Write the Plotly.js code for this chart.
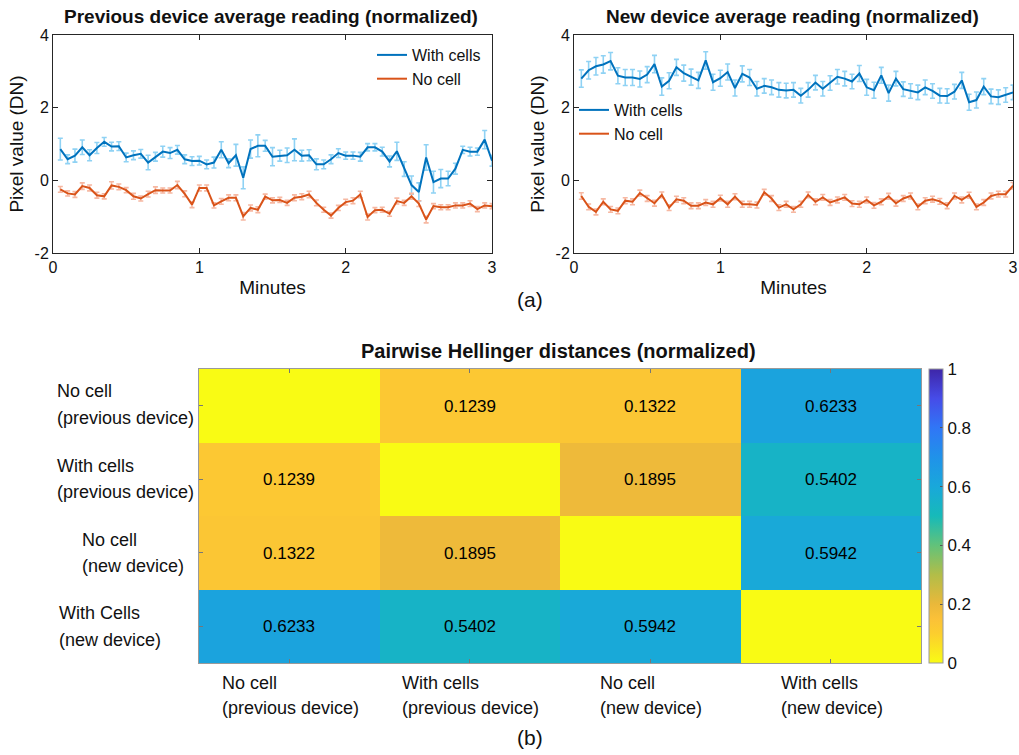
<!DOCTYPE html>
<html>
<head>
<meta charset="utf-8">
<script src="https://cdn.plot.ly/plotly-3.0.1.min.js"></script>
<style>html,body{margin:0;padding:0;background:#fff;}#chart{width:1019px;height:755px;}</style>
</head>
<body>
<div id="chart"></div>
<script>
// ---------- data ----------
const minutes = [0.05,0.10,0.15,0.20,0.25,0.30,0.35,0.40,0.45,0.50,0.55,0.60,0.65,0.70,0.75,0.80,0.85,0.90,0.95,1.00,
  1.05,1.10,1.15,1.20,1.25,1.30,1.35,1.40,1.45,1.50,1.55,1.60,1.65,1.70,1.75,1.80,1.85,1.90,1.95,2.00,
  2.05,2.10,2.15,2.20,2.25,2.30,2.35,2.40,2.45,2.50,2.55,2.60,2.65,2.70,2.75,2.80,2.85,2.90,2.95,3.00];

const prevWithCells = [0.86,0.58,0.68,0.91,0.69,0.89,1.06,0.93,0.94,0.63,0.69,0.73,0.49,0.65,0.79,0.75,0.84,0.58,0.53,0.54,
  0.44,0.49,0.84,0.47,0.69,0.07,0.86,0.95,0.95,0.65,0.68,0.69,0.84,0.68,0.69,0.44,0.44,0.58,0.75,0.68,
  0.68,0.65,0.91,0.91,0.79,0.52,0.80,0.31,-0.13,-0.32,0.63,-0.05,0.05,0.05,0.32,0.84,0.79,0.79,1.12,0.54];
const prevWithCellsErr = [0.30,0.12,0.18,0.20,0.15,0.15,0.12,0.12,0.12,0.12,0.12,0.12,0.20,0.12,0.15,0.15,0.12,0.12,0.12,0.12,
  0.12,0.15,0.22,0.12,0.30,0.30,0.25,0.30,0.15,0.25,0.15,0.20,0.30,0.15,0.15,0.15,0.12,0.12,0.12,0.10,
  0.10,0.12,0.10,0.10,0.12,0.15,0.25,0.20,0.25,0.25,0.35,0.30,0.25,0.20,0.15,0.10,0.12,0.10,0.25,0.15];
const prevNoCell = [-0.25,-0.36,-0.39,-0.16,-0.21,-0.41,-0.44,-0.14,-0.18,-0.27,-0.44,-0.50,-0.38,-0.27,-0.28,-0.28,-0.13,-0.37,-0.67,-0.21,
  -0.21,-0.69,-0.58,-0.48,-0.48,-0.99,-0.76,-0.81,-0.45,-0.55,-0.54,-0.62,-0.48,-0.45,-0.39,-0.62,-0.81,-0.97,-0.76,-0.60,
  -0.56,-0.39,-1.01,-0.82,-0.81,-0.92,-0.57,-0.62,-0.44,-0.64,-1.08,-0.71,-0.74,-0.74,-0.69,-0.69,-0.64,-0.79,-0.69,-0.71];
const prevNoCellErr = [0.08,0.07,0.08,0.09,0.08,0.08,0.07,0.10,0.08,0.07,0.08,0.07,0.08,0.09,0.07,0.07,0.10,0.08,0.08,0.08,
  0.08,0.07,0.08,0.08,0.08,0.10,0.08,0.08,0.07,0.07,0.07,0.07,0.08,0.08,0.09,0.08,0.07,0.07,0.07,0.08,
  0.08,0.09,0.08,0.07,0.07,0.07,0.08,0.07,0.08,0.08,0.09,0.07,0.07,0.07,0.07,0.07,0.08,0.07,0.07,0.07];

const newWithCells = [2.80,3.03,3.14,3.19,3.28,2.88,2.83,2.83,2.79,2.91,3.20,2.58,2.74,3.11,2.95,2.84,2.75,3.30,2.70,2.81,
  2.98,2.54,2.93,2.83,2.52,2.60,2.56,2.49,2.47,2.49,2.33,2.49,2.69,2.52,2.68,2.85,2.80,2.72,2.94,2.56,
  2.48,2.89,2.40,2.80,2.51,2.46,2.42,2.56,2.46,2.33,2.32,2.44,2.75,2.15,2.21,2.58,2.31,2.29,2.35,2.42];
const newWithCellsErr = [0.24,0.24,0.24,0.24,0.24,0.22,0.22,0.22,0.22,0.22,0.24,0.24,0.22,0.22,0.22,0.22,0.22,0.24,0.22,0.22,
  0.22,0.22,0.22,0.22,0.20,0.20,0.20,0.20,0.20,0.20,0.20,0.20,0.20,0.20,0.20,0.20,0.20,0.20,0.22,0.22,
  0.22,0.22,0.22,0.20,0.20,0.20,0.20,0.20,0.20,0.20,0.20,0.20,0.22,0.22,0.22,0.22,0.20,0.20,0.20,0.20];
const newNoCell = [-0.43,-0.73,-0.87,-0.59,-0.80,-0.84,-0.56,-0.59,-0.35,-0.50,-0.63,-0.40,-0.75,-0.52,-0.56,-0.70,-0.70,-0.61,-0.66,-0.49,
  -0.66,-0.45,-0.66,-0.66,-0.68,-0.33,-0.50,-0.75,-0.66,-0.80,-0.66,-0.40,-0.59,-0.47,-0.61,-0.54,-0.47,-0.64,-0.66,-0.54,
  -0.69,-0.59,-0.44,-0.63,-0.50,-0.43,-0.73,-0.56,-0.52,-0.58,-0.70,-0.43,-0.54,-0.41,-0.73,-0.61,-0.43,-0.38,-0.38,-0.15];
const newNoCellErr = [0.09,0.08,0.08,0.08,0.08,0.08,0.08,0.08,0.08,0.08,0.08,0.08,0.08,0.08,0.08,0.08,0.08,0.08,0.08,0.08,
  0.08,0.08,0.08,0.08,0.08,0.08,0.08,0.08,0.08,0.08,0.08,0.08,0.08,0.08,0.08,0.08,0.08,0.08,0.08,0.08,
  0.08,0.08,0.08,0.08,0.08,0.08,0.08,0.08,0.08,0.08,0.08,0.08,0.08,0.08,0.08,0.08,0.08,0.08,0.08,0.09];

const yTickVals = [-2, 0, 2, 4];
const yTickText = ["-2", "0", "2", "4"];
const xTickVals = [0, 1, 2, 3];

const hmRowLabels = [["No cell","(previous device)"],["With cells","(previous device)"],["No cell","(new device)"],["With Cells","(new device)"]];
const hmColLabels = [["No cell","(previous device)"],["With cells","(previous device)"],["No cell","(new device)"],["With cells","(new device)"]];
const hellinger = [
  [0, 0.1239, 0.1322, 0.6233],
  [0.1239, 0, 0.1895, 0.5402],
  [0.1322, 0.1895, 0, 0.5942],
  [0.6233, 0.5402, 0.5942, 0]
];
const cbTicks = [0, 0.2, 0.4, 0.6, 0.8, 1];

// ---------- styling ----------
const W = 1019, H = 755;
const px = v => v / W, py = v => 1 - v / H;
const FONT = "Liberation Sans, Arial, Helvetica, sans-serif";
const BLUE = "#0072BD", ORANGE = "#D95319";
const LBLUE = "#8FD2F4", LORANGE = "#F6B8A2";

function errTrace(y, e, col, xa, ya) {
  return {x: minutes, y: y, xaxis: xa, yaxis: ya, type: "scatter", mode: "markers",
    marker: {size: 1, opacity: 0}, showlegend: false, hoverinfo: "skip",
    error_y: {type: "data", array: e, visible: true, color: col, thickness: 1.6, width: 2.5}};
}
function lineTrace(y, col, name, xa, ya, lg) {
  return {x: minutes, y: y, xaxis: xa, yaxis: ya, type: "scatter", mode: "lines", name: name,
    line: {color: col, width: 2}, legend: lg};
}

const hmText = hellinger.map(r => r.map(v => v === 0 ? "" : v.toFixed(4)));

const parulaRev = [
  [0.00, "rgb(249,251,20)"],
  [0.10, "rgb(252,206,46)"],
  [0.15, "rgb(251,193,56)"],
  [0.20, "rgb(234,184,58)"],
  [0.30, "rgb(178,189,72)"],
  [0.40, "rgb(98,194,122)"],
  [0.50, "rgb(22,186,185)"],
  [0.60, "rgb(25,168,218)"],
  [0.70, "rgb(32,146,233)"],
  [0.80, "rgb(48,118,246)"],
  [0.90, "rgb(70,76,232)"],
  [1.00, "rgb(62,38,168)"]
];

const traces = [
  errTrace(prevWithCells, prevWithCellsErr, LBLUE, "x", "y"),
  errTrace(prevNoCell, prevNoCellErr, LORANGE, "x", "y"),
  lineTrace(prevWithCells, BLUE, "With cells", "x", "y", "legend"),
  lineTrace(prevNoCell, ORANGE, "No cell", "x", "y", "legend"),
  errTrace(newWithCells, newWithCellsErr, LBLUE, "x2", "y2"),
  errTrace(newNoCell, newNoCellErr, LORANGE, "x2", "y2"),
  lineTrace(newWithCells, BLUE, "With cells", "x2", "y2", "legend2"),
  lineTrace(newNoCell, ORANGE, "No cell", "x2", "y2", "legend2"),
  {type: "heatmap", z: hellinger, x: [0,1,2,3], y: [0,1,2,3], xaxis: "x3", yaxis: "y3",
   zmin: 0, zmax: 1, colorscale: parulaRev, text: hmText, texttemplate: "%{text}",
   textfont: {family: FONT, size: 17, color: "#000"}, hoverinfo: "skip",
   colorbar: {x: px(929), xanchor: "left", y: py(663), yanchor: "bottom", len: (663-369)/H, lenmode: "fraction",
     thickness: 14, thicknessmode: "pixels", outlinecolor: "#9a9a9a", outlinewidth: 1,
     tickvals: cbTicks, ticktext: cbTicks.map(String), ticks: "inside", ticklen: 3, tickcolor: "#555",
     tickfont: {family: FONT, size: 17, color: "#111"}, xpad: 0, ypad: 0}}
];

function lineAxisX(domain, anchor) {
  return {domain: domain, anchor: anchor, range: [0, 3], tickvals: xTickVals, ticks: "inside", ticklen: 5,
    showline: true, mirror: "ticks", linecolor: "#262626", linewidth: 1, tickcolor: "#262626",
    showgrid: false, zeroline: false, automargin: false,
    tickfont: {family: FONT, size: 16, color: "#111"},
    title: {text: "Minutes", font: {family: FONT, size: 19, color: "#111"}, standoff: 5}};
}
function lineAxisY(domain, anchor) {
  return {domain: domain, anchor: anchor, range: [-2, 4], tickvals: yTickVals, ticktext: yTickText, ticks: "inside", ticklen: 5,
    showline: true, mirror: "ticks", linecolor: "#262626", linewidth: 1, tickcolor: "#262626",
    showgrid: false, zeroline: false, automargin: false,
    tickfont: {family: FONT, size: 16, color: "#111"},
    title: {text: "Pixel value (DN)", font: {family: FONT, size: 19, color: "#111"}, standoff: 5}};
}

const ann = [];
function addText(text, x, y, opts) {
  ann.push(Object.assign({text: text, x: px(x), y: py(y), xref: "paper", yref: "paper", showarrow: false,
    xanchor: "center", yanchor: "middle", font: {family: FONT, size: 18, color: "#111"}}, opts || {}));
}
addText("<b>Previous device average reading (normalized)</b>", 271, 17, {font: {family: FONT, size: 19, color: "#111"}});
addText("<b>New device average reading (normalized)</b>", 792, 17, {font: {family: FONT, size: 19, color: "#111"}});
addText("<b>Pairwise Hellinger distances (normalized)</b>", 558, 351, {font: {family: FONT, size: 20, color: "#111"}});
addText("(a)", 530, 299, {font: {family: FONT, size: 21, color: "#111"}});
addText("(b)", 530, 737, {font: {family: FONT, size: 21, color: "#111"}});

const rowLeft = [55, 55, 80, 57];
const rowY = [[391, 418], [466, 492], [540, 566], [613, 640]];
hmRowLabels.forEach((lines, i) => {
  addText(lines[0], rowLeft[i], rowY[i][0], {xanchor: "left"});
  addText(lines[1], rowLeft[i], rowY[i][1], {xanchor: "left"});
});
const colLeft = [220, 400, 598, 779];
hmColLabels.forEach((lines, i) => {
  addText(lines[0], colLeft[i], 683, {xanchor: "left"});
  addText(lines[1], colLeft[i], 708, {xanchor: "left"});
});

const layout = {
  width: W, height: H, margin: {l: 0, r: 0, t: 0, b: 0}, paper_bgcolor: "#fff", plot_bgcolor: "#fff",
  font: {family: FONT, color: "#111"},
  xaxis: lineAxisX([px(53), px(492)], "y"),
  yaxis: lineAxisY([py(253), py(35)], "x"),
  xaxis2: lineAxisX([px(574), px(1013)], "y2"),
  yaxis2: lineAxisY([py(253), py(35)], "x2"),
  xaxis3: {domain: [px(199), px(921)], anchor: "y3", range: [-0.5, 3.5], tickvals: [0,1,2,3], showticklabels: false,
    ticks: "inside", ticklen: 4, tickcolor: "#777", showline: true, mirror: "ticks", linecolor: "#9a9a9a",
    showgrid: false, zeroline: false, automargin: false},
  yaxis3: {domain: [py(663), py(369)], anchor: "x3", range: [3.5, -0.5], tickvals: [0,1,2,3], showticklabels: false,
    ticks: "inside", ticklen: 4, tickcolor: "#777", showline: true, mirror: "ticks", linecolor: "#9a9a9a",
    showgrid: false, zeroline: false, automargin: false},
  legend: {x: px(372), y: py(38), xanchor: "left", yanchor: "top", bgcolor: "rgba(0,0,0,0)", borderwidth: 0,
    font: {family: FONT, size: 16, color: "#111"}, tracegroupgap: 0},
  legend2: {x: px(574), y: py(93), xanchor: "left", yanchor: "top", bgcolor: "rgba(0,0,0,0)", borderwidth: 0,
    font: {family: FONT, size: 16, color: "#111"}, tracegroupgap: 0},
  annotations: ann
};

Plotly.newPlot("chart", traces, layout, {displayModeBar: false, staticPlot: true});
</script>
</body>
</html>
